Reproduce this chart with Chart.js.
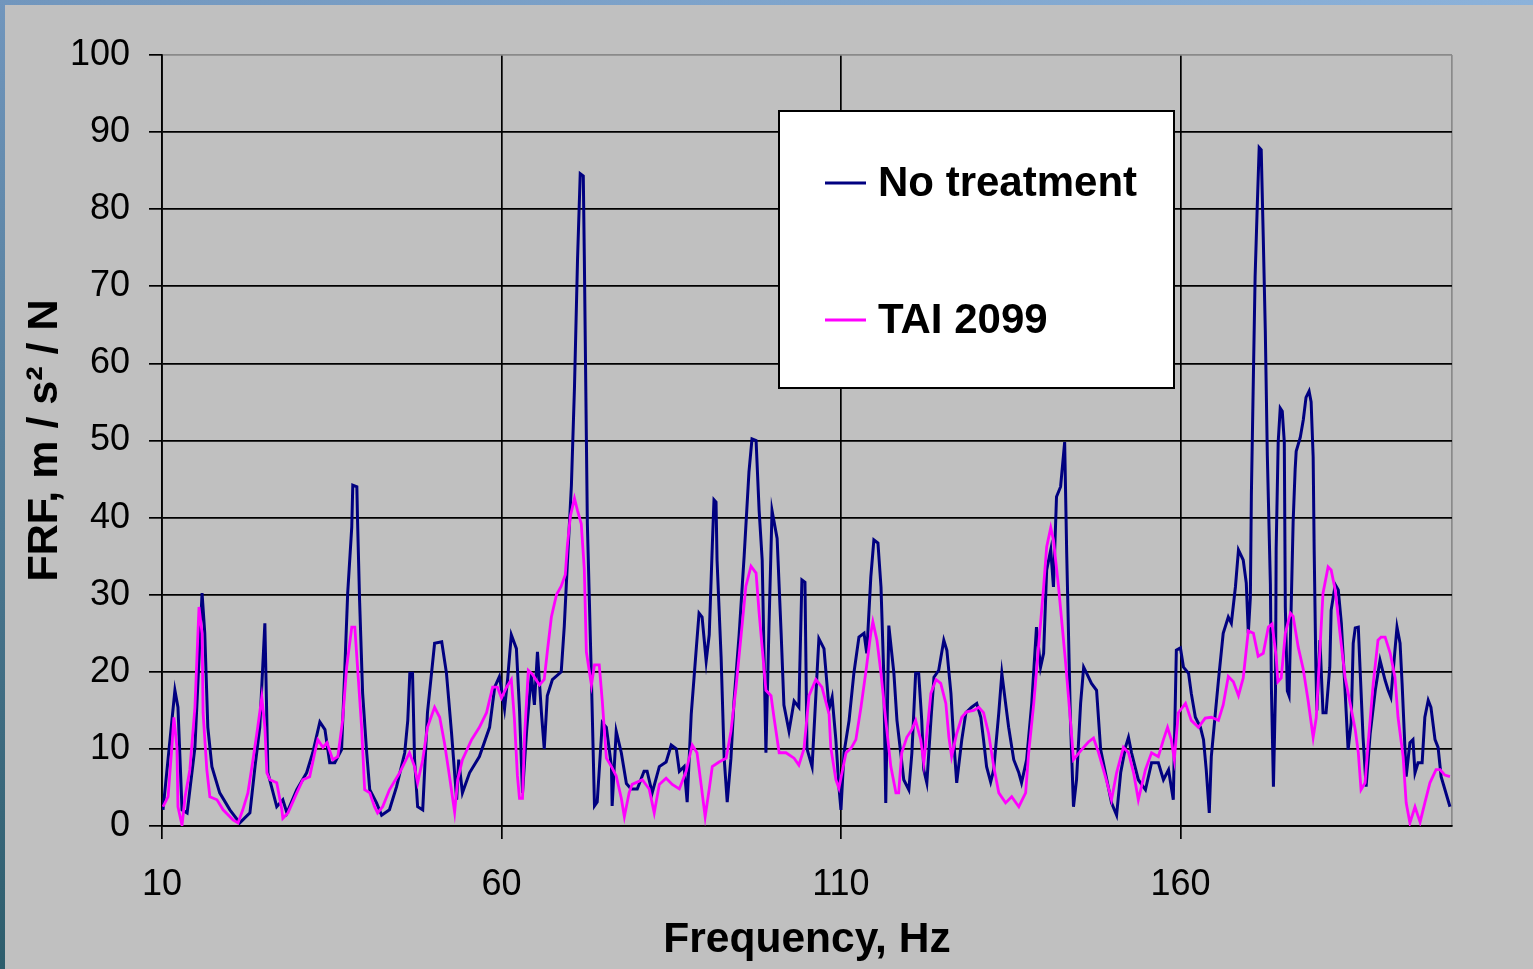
<!DOCTYPE html>
<html>
<head>
<meta charset="utf-8">
<title>FRF vs frequency</title>
<script src="https://cdn.jsdelivr.net/npm/chart.js@4.4.1/dist/chart.umd.min.js"></script>
<style>
  html, body { margin: 0; padding: 0; overflow: hidden; background: #c0c0c0; }
  #wrap { position: relative; width: 1533px; height: 969px; }
</style>
</head>
<body>
<div id="wrap"><canvas id="frf" width="1533" height="969"></canvas></div>
<script>
// Frequency axis (Hz) and labelled ticks
const xTicks = [10, 60, 110, 160];
const xMin = 10;
const xMax = 200;

// No treatment: frequency (Hz) and FRF (m/s^2/N)
const noTreatFreq = [10.15, 11.9, 12.35, 12.95, 13.7, 14.85, 15.9, 16.3, 16.75, 17.35, 18.5, 20, 21.45, 22.95, 23.7, 24.4, 25.15, 25.45, 25.6, 26.9,
  27.8, 28.4, 29.85, 31.3, 32.2, 33.25, 34, 34.7, 35.45, 36.45, 36.9, 37.35, 37.95, 38.1, 38.7, 38.8, 39.1, 39.55, 40.15, 40.6,
  41.6, 42.35, 43.5, 44.55, 45.75, 46.2, 46.5, 46.9, 47.2, 47.65, 48.4, 49.1, 50.15, 51.2, 51.9, 52.65, 53.4, 53.7, 54.25, 55.3,
  56.75, 58.25, 59, 59.7, 60.45, 60.9, 61.45, 62.2, 62.65, 63.1, 63.7, 64.4, 64.85, 65.3, 65.9, 66.3, 66.75, 67.5, 68.8, 69.25,
  69.7, 70.3, 70.75, 71.2, 71.6, 72.05, 72.2, 72.5, 72.65, 73.25, 73.7, 74.1, 74.85, 75.45, 76.2, 76.3, 76.9, 77.65, 78.4, 79.1,
  80, 81, 81.45, 82.2, 83.25, 84.25, 85, 85.75, 86.2, 86.9, 87.35, 87.95, 88.7, 89.1, 89.55, 90.15, 90.6, 91.05, 91.3, 91.6,
  91.75, 92.35, 92.8, 93.25, 93.8, 94.25, 95, 95.75, 96.45, 96.9, 97.5, 97.95, 98.4, 98.95, 99.4, 99.85, 100.6, 101.2, 101.6, 102.35,
  103.1, 103.8, 104.25, 104.7, 105, 105.75, 106.75, 107.5, 108.25, 108.7, 109.25, 109.7, 110, 110.45, 111.2, 111.9, 112.65, 113.4, 113.8, 114.4,
  114.85, 115.45, 115.9, 116.3, 116.6, 117.05, 117.8, 118.25, 118.8, 119.25, 120, 120.45, 121, 121.45, 121.9, 122.2, 122.65, 123.25, 123.7, 124.4,
  125.15, 125.6, 126.2, 126.6, 127.05, 127.8, 128.4, 129.25, 130, 130.6, 131, 131.45, 132.05, 132.5, 133.25, 133.7, 134.25, 134.7, 135.45, 136.2,
  136.6, 137.35, 138.1, 138.8, 139.4, 139.85, 140.3, 140.9, 141.3, 141.75, 142.35, 142.95, 143.25, 143.8, 144.25, 144.7, 145.3, 145.75, 146.2, 146.9,
  147.65, 148.25, 148.95, 149.85, 150.6, 151.2, 151.9, 152.35, 152.8, 153.8, 154.85, 155.75, 156.75, 157.5, 158.25, 158.95, 159.4, 160, 160.45, 161.2,
  161.6, 162.2, 162.95, 163.4, 163.8, 164.25, 164.55, 165.15, 165.6, 166.3, 167.05, 167.5, 168.1, 168.55, 169.25, 169.7, 170, 170.3, 170.45, 170.75,
  171, 171.3, 171.6, 171.9, 172.2, 172.5, 172.8, 173.25, 173.4, 173.7, 174, 174.1, 174.4, 174.7, 175, 175.3, 175.45, 175.75, 176, 176.3,
  176.6, 176.9, 177.05, 177.65, 178.1, 178.5, 178.95, 179.25, 179.55, 179.7, 179.95, 180.1, 180.55, 181, 181.45, 182, 182.2, 182.8, 183.25, 183.7,
  184.25, 184.7, 185.15, 185.45, 185.75, 186.2, 186.45, 186.9, 187.35, 187.95, 188.7, 189.4, 190.15, 190.6, 191, 191.6, 191.9, 192.35, 192.65, 192.95,
  193.25, 193.8, 194.25, 194.55, 195, 195.6, 196, 196.5, 196.9, 197.5, 197.95, 198.4, 199.7];
const noTreatFrf = [2.1, 17.6, 15.4, 2.1, 1.7, 10.2, 30.2, 25, 12.8, 7.7, 4.3, 2.1, 0.4, 1.7, 7.7, 12.8, 26.3, 13.4, 6.9, 2.5,
  3.4, 1.7, 4.7, 6.9, 9.5, 13.5, 12.5, 8.2, 8.2, 9.9, 19.8, 30.2, 38.8, 44.2, 44, 39.7, 29.3, 17.2, 9.5, 4.7,
  3, 1.4, 2.1, 5.1, 9.5, 13.7, 19.8, 19.8, 8.6, 2.5, 2.1, 14.7, 23.7, 23.9, 19.8, 12, 3.4, 8.6, 4.3, 6.9,
  9, 12.8, 18, 19.4, 15.2, 19, 24.8, 23, 15.2, 4.3, 12.3, 19.7, 15.7, 22.6, 14.5, 10, 16.9, 19, 20, 25.9,
  34, 44.2, 56.8, 73.4, 84.6, 84.3, 74, 50.6, 39.2, 19, 2.6, 3.1, 13.4, 12.8, 7.7, 2.6, 12.3, 9.5, 5.5, 4.8,
  4.8, 7.1, 7.1, 4.3, 7.7, 8.3, 10.5, 10, 7.1, 7.7, 3.1, 14.5, 23.1, 27.6, 27.1, 21.4, 24.8, 36.3, 42.3, 42,
  34.5, 21.9, 8.8, 3.1, 8.8, 16.2, 24.8, 35.1, 45.9, 50.2, 50, 40.9, 34.5, 9.5, 25.9, 40.9, 37.3, 24.8, 15.7, 12.3,
  16.2, 15.4, 31.9, 31.6, 10, 7.7, 24.3, 23, 15.2, 16.7, 11.2, 5.1, 2.1, 9.5, 13.7, 19.8, 24.5, 25, 22.4, 32.3,
  37.1, 36.7, 31, 19.8, 3, 26, 19.8, 13.7, 9.5, 6, 4.7, 9.5, 19.8, 19.8, 13.7, 7.3, 5.6, 13.7, 19.3, 20.2,
  24.1, 22.8, 17.2, 11.2, 5.6, 11.2, 14.7, 15.4, 15.9, 14.1, 11.2, 7.7, 5.7, 7.3, 14.7, 19.8, 15.9, 12.8, 8.6, 6.9,
  5.6, 8.6, 15.9, 25.8, 20.6, 22.4, 33.2, 35.8, 31, 42.7, 44, 49.8, 35.4, 13.7, 2.5, 6, 15.9, 20.6, 19.8, 18.5,
  17.6, 9.9, 6.9, 3, 1.4, 6.9, 10.2, 11.5, 9.5, 6, 4.7, 8.2, 8.2, 6, 7.3, 3.4, 22.8, 23.1, 20.6, 19.8,
  17.2, 14.1, 12.8, 11.2, 7.3, 1.7, 9, 14.7, 18.9, 25, 27.1, 26.3, 31, 35.8, 34.5, 31.5, 25, 29.6, 42.9, 58.5,
  71.2, 79.9, 88, 87.7, 76.4, 64.3, 48.1, 31.4, 18, 5.1, 17.5, 35.9, 49.8, 54.2, 53.8, 49.8, 28.4, 17.5, 16.9, 27.9,
  39.4, 46.3, 48.6, 50.4, 52.7, 55.6, 56.4, 55, 47.9, 35.8, 20.6, 15, 24.1, 14.7, 14.7, 20.6, 28, 31.3, 30.6, 26.3,
  17.6, 9.9, 13.4, 23.7, 25.7, 25.8, 20.6, 11.5, 5.1, 12, 17.6, 21.5, 18.9, 17.6, 16.7, 22.8, 25.8, 23.7, 18.5, 12.5,
  6.4, 10.8, 11.2, 6.9, 8.2, 8.2, 14.1, 16.3, 15.4, 11.2, 10.2, 6.4, 2.5];

// TAI 2099: frequency (Hz) and FRF (m/s^2/N)
const taiFreq = [10.15, 10.9, 11.45, 11.75, 12.2, 12.35, 12.95, 13.4, 14.1, 14.85, 15.15, 15.45, 15.9, 16.05, 16.6, 17.05, 18.1, 19, 20.45, 21.2,
  21.9, 22.65, 23.4, 24.1, 24.7, 25.15, 25.45, 25.9, 26.9, 27.65, 27.8, 28.55, 29.85, 30.75, 31.75, 32.5, 32.95, 33.7, 34.3, 35.15,
  35.9, 36.6, 37.2, 37.95, 38.4, 38.8, 39.4, 39.85, 40.6, 41.3, 41.75, 42.5, 43.5, 45, 46.45, 47.2, 47.65, 48.4, 49.1, 50.15,
  50.9, 51.6, 52.35, 53.1, 53.55, 54.25, 55.6, 56.75, 57.8, 58.7, 59.4, 60, 60.75, 61.45, 61.9, 62.35, 62.65, 63.1, 63.4, 63.95,
  64.55, 65.6, 66.3, 66.75, 67.35, 68.1, 68.8, 69.4, 69.7, 70.15, 70.75, 71.2, 71.75, 72.2, 72.5, 73.25, 73.7, 74.4, 74.85, 75.45,
  76.2, 76.9, 77.65, 78.1, 78.8, 79.25, 80.75, 81.75, 82.5, 83.25, 84.25, 85.15, 86.2, 87.2, 88.1, 88.8, 89.4, 90, 90.6, 91.05,
  92.05, 93.1, 93.8, 94.55, 95.3, 96, 96.75, 97.5, 97.95, 98.4, 98.95, 99.7, 100.15, 100.9, 101.9, 103.1, 103.8, 104.55, 105.3, 106.3,
  107.2, 108.25, 108.5, 109.25, 109.7, 110.15, 110.75, 111.5, 112.2, 112.95, 113.7, 114.4, 114.7, 115.3, 115.9, 116.6, 117.35, 118.1, 118.5, 118.95,
  119.7, 120.45, 121, 121.75, 122.2, 122.65, 123.25, 124, 124.7, 125.45, 125.9, 126.3, 127.05, 127.8, 128.5, 129.55, 130.3, 131, 131.75, 132.5,
  133.25, 134.25, 135.15, 136.2, 137.2, 137.65, 138.4, 139.1, 139.85, 140.3, 140.9, 141.3, 142.05, 143.1, 143.8, 144.25, 145.45, 146.45, 147.2, 147.95,
  148.95, 149.85, 150.6, 151.6, 152.35, 153.1, 153.8, 154.85, 155.75, 156.75, 157.5, 158.1, 158.65, 159.1, 159.7, 160.75, 161.6, 162.65, 163.65, 164.55,
  165.6, 166.3, 167.05, 167.8, 168.55, 169.25, 170, 170.75, 171.45, 172.2, 172.95, 173.5, 174.1, 174.35, 174.85, 175.45, 176.2, 176.6, 177.35, 178.1,
  178.8, 179.55, 180, 180.6, 181, 181.75, 182.2, 182.8, 183.5, 184.25, 185, 185.75, 186.2, 186.6, 187.2, 187.65, 188.4, 189.1, 189.55, 190.15,
  190.9, 191.6, 192.05, 192.8, 193.25, 193.8, 194.55, 195.3, 196, 196.75, 197.65, 198.25, 198.95, 199.7];
const taiFrf = [2.5, 3.8, 10.2, 14.1, 10.2, 2.5, 0.1, 3.8, 7.3, 15.4, 21.9, 28.4, 25, 14.7, 7.3, 3.8, 3.4, 2.1, 0.8, 0.4,
  2.1, 4.3, 8.6, 12.8, 16.7, 12.8, 6.9, 6, 5.6, 2.1, 1, 1.7, 4.3, 6, 6.4, 9.5, 11.2, 10.2, 10.8, 8.6,
  9, 13.7, 20.6, 25.8, 25.8, 20.6, 12.8, 4.7, 4.3, 2.5, 1.7, 2.5, 4.7, 6.9, 9.5, 7.7, 5.6, 8.6, 12.8, 15.4,
  14.1, 10.8, 6.4, 1.8, 6, 8.6, 11.2, 12.8, 14.7, 18, 18, 16.6, 18, 19, 14, 6.5, 3.6, 3.6, 11.7, 20.2,
  19.7, 18.3, 19, 22.6, 27.1, 30, 31.1, 32.6, 36.3, 40.2, 42.5, 40.9, 39.2, 33.3, 22.6, 18.3, 20.9, 20.9, 16.2, 8.8,
  7.7, 6.5, 3.6, 1.2, 4.3, 5.4, 6, 4.8, 1.7, 5.4, 6.2, 5.4, 4.8, 7.1, 10.5, 9.5, 5.4, 1.2, 4.8, 7.7,
  8.3, 8.8, 12.3, 18, 24.8, 31.1, 33.7, 32.8, 27.6, 23.1, 17.6, 16.9, 14, 9.5, 9.5, 8.8, 7.9, 10, 16.9, 19,
  18, 14.5, 10.2, 6, 4.9, 6.9, 9.5, 10.1, 11.2, 15.4, 20.2, 25, 26.5, 24.1, 19.8, 13.7, 7.7, 4.3, 4.3, 9.5,
  11.5, 12.5, 13.7, 11.2, 8.2, 12, 17.2, 19, 18.5, 15.9, 11.5, 9, 12, 14.1, 14.8, 15, 15.4, 14.7, 12, 7.7,
  4.3, 3, 3.8, 2.5, 4.3, 9.5, 15.9, 23.2, 31, 36.2, 38.7, 37.1, 31, 21.1, 13.7, 8.6, 9.9, 10.9, 11.4, 9.5,
  6.4, 3.4, 6.9, 10.2, 9.5, 6.9, 3.4, 7.3, 9.5, 9, 11.2, 12.8, 11.2, 8.6, 14.7, 15.9, 13.7, 12.8, 14, 14.1,
  13.7, 15.7, 19.4, 18.7, 16.9, 19.2, 25.3, 25, 22, 22.4, 25.8, 26.2, 22, 18.7, 19.2, 25, 27.6, 27.2, 23.2, 20.3,
  16.3, 11.5, 14, 23.7, 30.2, 33.6, 33.2, 30.6, 25, 19.3, 15.9, 12.5, 9.5, 4.7, 5.6, 10.8, 18.5, 24.1, 24.5, 24.5,
  22.4, 19.3, 14.1, 9, 3, 0.4, 2.5, 0.5, 3, 5.6, 7.3, 7.3, 6.6, 6.4];

const toPoints = (xs, ys) => xs.map((x, i) => ({ x: x, y: ys[i] }));

Chart.defaults.font.family = '"Liberation Sans", Arial, sans-serif';
Chart.defaults.color = '#000';

// grey slide panel with the blue edge strips along the top and left
const slideBackground = {
  id: 'slideBackground',
  beforeDraw(chart) {
    const { ctx, width, height } = chart;
    ctx.save();
    ctx.fillStyle = '#c0c0c0';
    ctx.fillRect(0, 0, width, height);
    let g = ctx.createLinearGradient(0, 0, width, 0);
    g.addColorStop(0, '#7196bd');
    g.addColorStop(1, '#8cb2da');
    ctx.fillStyle = g;
    ctx.fillRect(0, 0, width, 5);
    g = ctx.createLinearGradient(0, 0, 0, height);
    g.addColorStop(0, '#7196bd');
    g.addColorStop(1, '#2d5d6c');
    ctx.fillStyle = g;
    ctx.fillRect(0, 0, 5, height);
    ctx.restore();
  }
};

// boxed legend inside the plot
const boxLegend = {
  id: 'boxLegend',
  afterDraw(chart) {
    const ctx = chart.ctx;
    const rowY = [183, 320];
    ctx.save();
    ctx.fillStyle = '#fff';
    ctx.fillRect(778, 110, 397, 279);
    ctx.strokeStyle = '#000';
    ctx.lineWidth = 2;
    ctx.strokeRect(779, 111, 395, 277);
    ctx.font = 'bold 42px "Liberation Sans", Arial, sans-serif';
    ctx.textBaseline = 'middle';
    ctx.textAlign = 'left';
    chart.data.datasets.forEach((ds, i) => {
      ctx.strokeStyle = ds.borderColor;
      ctx.lineWidth = 3;
      ctx.beginPath();
      ctx.moveTo(825, rowY[i]);
      ctx.lineTo(866, rowY[i]);
      ctx.stroke();
      ctx.fillStyle = '#000';
      ctx.fillText(ds.label, 878, rowY[i] + 1);
    });
    ctx.restore();
  }
};

new Chart(document.getElementById('frf'), {
  type: 'line',
  data: {
    datasets: [
      { label: 'No treatment', data: toPoints(noTreatFreq, noTreatFrf), borderColor: '#000080', borderWidth: 3, order: 2 },
      { label: 'TAI 2099', data: toPoints(taiFreq, taiFrf), borderColor: '#ff00ff', borderWidth: 2.8, order: 1 }
    ]
  },
  options: {
    responsive: false,
    animation: false,
    devicePixelRatio: 1,
    elements: { point: { radius: 0 }, line: { tension: 0 } },
    layout: { padding: { left: 0, top: 55, right: 81, bottom: 0 } },
    plugins: { legend: { display: false }, tooltip: { enabled: false } },
    scales: {
      x: {
        type: 'linear',
        min: xMin,
        max: xMax,
        afterBuildTicks: s => { s.ticks = xTicks.concat(xMax).map(v => ({ value: v })); },
        afterFit: s => { s.height = 143; },
        ticks: {
          autoSkip: false,
          maxRotation: 0,
          padding: 24,
          font: { size: 36 },
          callback: v => xTicks.includes(v) ? String(v) : ''
        },
        grid: {
          color: c => c.tick && c.tick.value === xMax ? '#8a8a8a' : '#000',
          tickColor: c => c.tick && c.tick.value === xMax ? 'rgba(0,0,0,0)' : '#000',
          lineWidth: 1.7,
          tickLength: 13
        },
        border: { color: '#000', width: 1.7 },
        title: {
          display: true,
          text: 'Frequency, Hz',
          font: { size: 42.5, weight: 'bold' },
          padding: { top: 0, bottom: 3 }
        }
      },
      y: {
        min: 0,
        max: 100,
        afterFit: s => { s.width = 162; },
        ticks: { stepSize: 10, padding: 19, font: { size: 36 } },
        grid: {
          color: c => c.tick && c.tick.value === 100 ? '#8a8a8a' : '#000',
          tickColor: '#000',
          lineWidth: 1.7,
          tickLength: 13
        },
        border: { color: '#000', width: 1.7 },
        title: {
          display: true,
          text: 'FRF, m / s² / N',
          font: { size: 43, weight: 'bold' },
          padding: { top: 19, bottom: 0 }
        }
      }
    }
  },
  plugins: [slideBackground, boxLegend]
});
</script>
</body>
</html>
